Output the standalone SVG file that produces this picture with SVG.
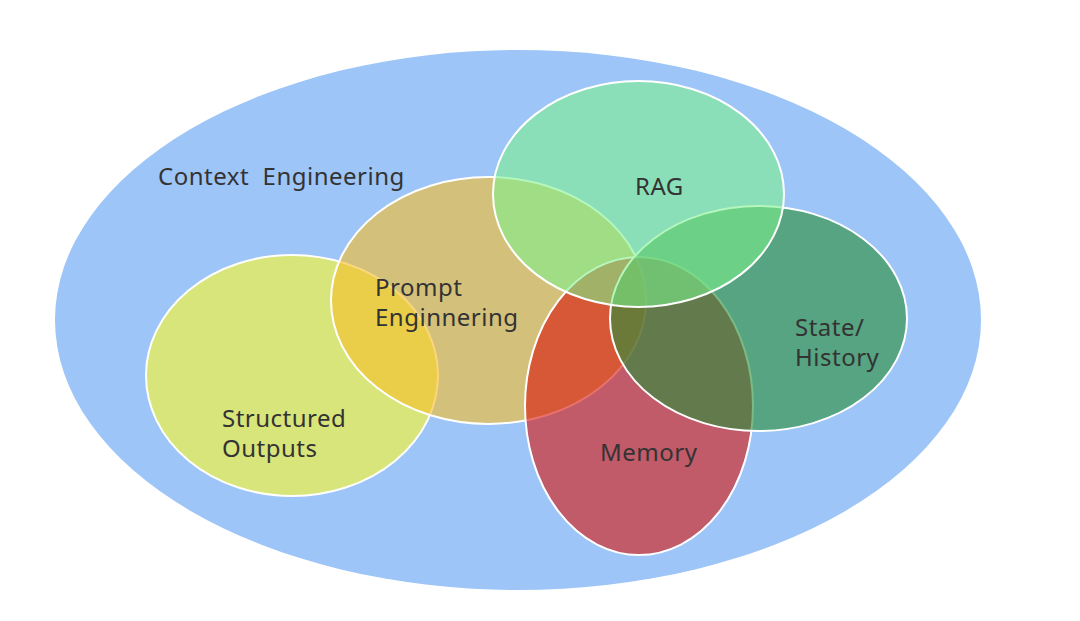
<svg xmlns="http://www.w3.org/2000/svg" width="1080" height="621" viewBox="0 0 1080 621">
<style>
.lbl{font-family:"Noto Sans","Open Sans","DejaVu Sans",sans-serif;font-size:24px;letter-spacing:0.5px;fill:#333333}
.c{stroke:#ffffff;stroke-width:2}
</style>
<rect width="1080" height="621" fill="#ffffff"/>
<g id="context">
<ellipse cx="518" cy="320" rx="463" ry="270" fill="#9ec5f7"/>
<text class="lbl" x="158" y="185" xml:space="preserve">Context  Engineering</text>
</g>
<g id="structured">
<ellipse class="c" cx="292" cy="375.5" rx="146" ry="120.5" fill="#d8e57a"/>
</g>
<g id="prompt">
<ellipse class="c" cx="488.5" cy="300.5" rx="157.5" ry="123.5" fill="#f6bd26" fill-opacity="0.6"/>
</g>
<g id="memory">
<ellipse class="c" cx="639" cy="406" rx="114" ry="149" fill="#d9130a" fill-opacity="0.6"/>
</g>
<g id="state">
<ellipse class="c" cx="758.5" cy="318.5" rx="148.5" ry="112.5" fill="#2a903a" fill-opacity="0.62"/>
</g>
<g id="rag">
<ellipse class="c" cx="638.5" cy="194" rx="145.5" ry="113" fill="#7cf28c" fill-opacity="0.58"/>
</g>
<g id="labels">
<text class="lbl" x="222" y="427"><tspan x="222" y="427">Structured</tspan><tspan x="222" y="457">Outputs</tspan></text>
<text class="lbl" x="375" y="296"><tspan x="375" y="296">Prompt</tspan><tspan x="375" y="326">Enginnering</tspan></text>
<text class="lbl" x="635" y="195">RAG</text>
<text class="lbl" x="795" y="335.5"><tspan x="795" y="335.5">State/</tspan><tspan x="795" y="365.5">History</tspan></text>
<text class="lbl" x="600" y="461">Memory</text>
</g>
</svg>
